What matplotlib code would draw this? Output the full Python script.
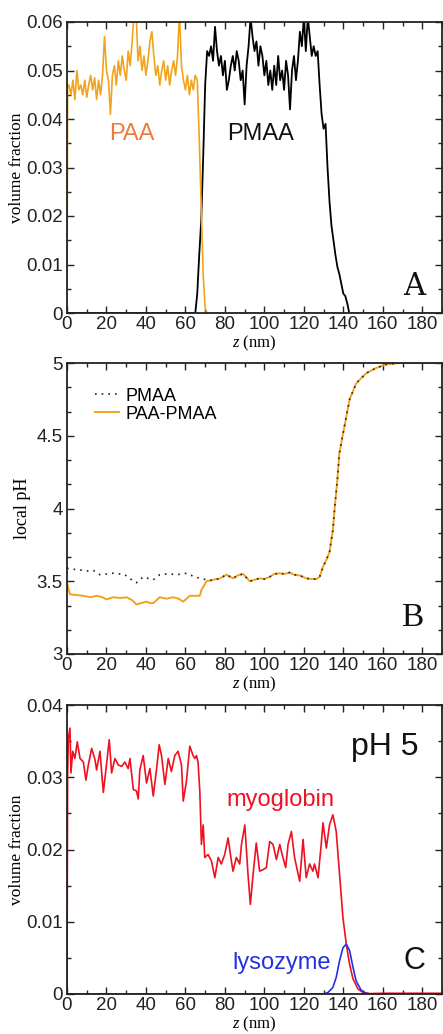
import numpy as np
import matplotlib
matplotlib.use('Agg')
import matplotlib.pyplot as plt
from matplotlib.ticker import MultipleLocator

plt.rcParams['font.family'] = 'Liberation Sans'
plt.rcParams['mathtext.fontset'] = 'custom'
plt.rcParams['mathtext.it'] = 'Liberation Serif:italic'
plt.rcParams['mathtext.rm'] = 'Liberation Serif'

# ---------------- Panel A: polymer volume fraction ----------------
z_paa = [0, 0.3] + list(range(1, 72)) + [190]
phi_paa = [0.0, 0.047,
           0.047, 0.045, 0.048, 0.044, 0.050, 0.046, 0.047, 0.045, 0.048, 0.0445,
           0.047, 0.049, 0.046, 0.0485, 0.044, 0.048, 0.045, 0.049, 0.057, 0.050,
           0.048, 0.041, 0.049, 0.051, 0.047, 0.052, 0.049, 0.053, 0.050, 0.048,
           0.054, 0.051, 0.056, 0.062, 0.062, 0.052, 0.055, 0.050, 0.053, 0.049,
           0.052, 0.056, 0.058, 0.053, 0.049, 0.051, 0.047, 0.050, 0.052, 0.048,
           0.051, 0.047, 0.050, 0.052, 0.049, 0.053, 0.062, 0.051, 0.048, 0.046,
           0.049, 0.045, 0.048, 0.046, 0.049, 0.048, 0.036, 0.022, 0.008, 0.001,
           0.000,
           0.0]

z_pmaa = [0, 65] + list(range(66, 144)) + [190]
phi_pmaa = [0.0, 0.0,
            0.004, 0.012, 0.019, 0.032, 0.047, 0.054, 0.053, 0.055, 0.052, 0.059,
            0.054, 0.051, 0.053, 0.049, 0.052, 0.046, 0.048, 0.051, 0.053, 0.050,
            0.054, 0.052, 0.048, 0.050, 0.043, 0.051, 0.055, 0.061, 0.057, 0.054,
            0.056, 0.051, 0.055, 0.053, 0.049, 0.052, 0.047, 0.050, 0.046, 0.051,
            0.047, 0.053, 0.048, 0.050, 0.046, 0.052, 0.049, 0.042, 0.050, 0.053,
            0.048, 0.052, 0.058, 0.055, 0.061, 0.054, 0.061, 0.057, 0.053, 0.055,
            0.053, 0.054, 0.047, 0.041, 0.038, 0.039, 0.030, 0.023, 0.018, 0.015,
            0.012, 0.0095, 0.008, 0.006, 0.004, 0.0035, 0.002, 0.000,
            0.0]

# ---------------- Panel B: local pH ----------------
z_ph_blend = [0, 1.5, 5, 8.3, 12, 15, 18, 20, 23.4, 27, 30.2, 33, 35.2, 37.5, 40.3,
              42, 43.7, 47, 50.4, 53.8, 56.5, 58.9, 62.2, 65, 67.3, 68.1, 70.7, 74,
              77.5, 80.8, 84.1, 86.5, 89.2, 92.6, 95, 97.6, 100, 102.7, 105, 107.8,
              110, 112.8, 115, 117.9, 121.2, 124, 126.3, 128, 129.7, 131.5, 133,
              134.7, 135.6, 137, 138, 139.8, 141.5, 143.2, 146.5, 151.6, 156.7,
              161.7, 168.5, 190]
ph_blend = [3.49, 3.41, 3.405, 3.40, 3.39, 3.40, 3.39, 3.375, 3.39, 3.385, 3.39, 3.37,
            3.34, 3.35, 3.36, 3.35, 3.35, 3.39, 3.38, 3.39, 3.38, 3.36, 3.40, 3.40,
            3.40, 3.44, 3.50, 3.51, 3.52, 3.545, 3.52, 3.54, 3.55, 3.50, 3.51, 3.52,
            3.515, 3.53, 3.55, 3.555, 3.55, 3.56, 3.545, 3.54, 3.52, 3.515, 3.515,
            3.53, 3.60, 3.65, 3.70, 3.85, 4.00, 4.20, 4.38, 4.51, 4.63, 4.75, 4.86,
            4.93, 4.966, 4.99, 5.0, 5.0]

z_ph_pmaa = [0, 1.5, 5, 8, 10, 13.3, 16.7, 20, 23.4, 26, 28.5, 31, 33.6, 35.2, 38.6,
             41, 43.7, 47, 50, 52.1, 55.5, 58, 60.5, 63.9, 67.3, 70.7, 74,
             77.5, 80.8, 84.1, 86.5, 89.2, 92.6, 95, 97.6, 100, 102.7, 105, 107.8,
             110, 112.8, 115, 117.9, 121.2, 124, 126.3, 128, 129.7, 131.5, 133,
             134.7, 135.6, 137, 138, 139.8, 141.5, 143.2, 146.5, 151.6, 156.7,
             161.7, 168.5, 190]
ph_pmaa = [3.59, 3.585, 3.58, 3.575, 3.57, 3.575, 3.545, 3.55, 3.555, 3.55, 3.55, 3.53,
           3.50, 3.49, 3.53, 3.52, 3.51, 3.545, 3.55, 3.55, 3.545, 3.55, 3.555, 3.535,
           3.52, 3.51, 3.505,
           3.52, 3.545, 3.52, 3.54, 3.55, 3.50, 3.51, 3.52,
           3.515, 3.53, 3.55, 3.555, 3.55, 3.56, 3.545, 3.54, 3.52, 3.515, 3.515,
           3.53, 3.60, 3.65, 3.70, 3.85, 4.00, 4.20, 4.38, 4.51, 4.63, 4.75, 4.86,
           4.93, 4.966, 4.99, 5.0, 5.0]

# ---------------- Panel C: protein volume fraction ----------------
z_myo = [0, 0.3, 0.7, 1.5, 2, 2.9, 4, 5.2, 6.6, 8.3, 9.6, 10.8, 12.5, 14.2, 15, 16.7,
         18.4, 20, 21.4, 22.6, 24.3, 26, 27.7, 29.3, 31, 31.9, 33.6, 35.2, 36.1, 36.9,
         38.6, 40.3, 42, 43.7, 45.4, 46.7, 47.9, 49.6, 51.3, 52.9, 54.6, 56.3, 58,
         58.9, 60.5, 62.2, 63.9, 64.8, 65.6, 66.4, 67.3, 68.1, 69, 69.8, 71.5, 73.2,
         74.9, 76.6, 78.2, 79.9, 81.6, 83.3, 84.1, 85.8, 87.5, 88.4, 90.1, 91.7, 92.9,
         94.3, 95.9, 97.6, 99.3, 101, 102.7, 104.4, 106.1, 107.8, 109.4, 110.8, 112,
         113.7, 115.3, 117.9, 119.6, 121.2, 122.9, 124.6, 125.4, 127.2, 128.8, 129.7,
         131.4, 133, 134.7, 136.4, 138.1, 139.8, 141.5, 143.2, 144.9, 147.4, 150,
         153.3, 160, 190]
phi_myo = [0.0, 0.030, 0.0354, 0.0368, 0.0306, 0.0336, 0.0326, 0.0349, 0.0326, 0.0321,
           0.0296, 0.0317, 0.0340, 0.0324, 0.0310, 0.0336, 0.0279, 0.0317, 0.0352,
           0.0306, 0.0326, 0.0317, 0.0315, 0.0321, 0.0312, 0.0326, 0.0283, 0.0281,
           0.0270, 0.0310, 0.0330, 0.0292, 0.0312, 0.0274, 0.0312, 0.0345, 0.0330,
           0.0290, 0.0326, 0.0308, 0.0330, 0.0336, 0.0317, 0.0267, 0.0294, 0.0343,
           0.0330, 0.0326, 0.0330, 0.0321, 0.0280, 0.0207, 0.0234, 0.0189, 0.0193,
           0.0184, 0.0161, 0.0189, 0.0180, 0.0193, 0.0216, 0.0184, 0.0170, 0.0189,
           0.0180, 0.0207, 0.0234, 0.0166, 0.0124, 0.0166, 0.0209, 0.0170, 0.0172,
           0.0175, 0.0211, 0.0207, 0.0186, 0.0207, 0.0189, 0.0175, 0.0207, 0.0225,
           0.0189, 0.0156, 0.0214, 0.0161, 0.0180, 0.0170, 0.0180, 0.0161, 0.0207,
           0.0237, 0.0202, 0.0234, 0.0248, 0.0225, 0.0166, 0.0106, 0.0069, 0.0041,
           0.0021, 0.0007, 0.0002, 0.00005, 0.0001, 0.0001]

z_lys = [0, 130, 132.2, 134.7, 136.4, 138.1, 139.8, 141.5, 143.2, 144.9, 146.5, 149.1,
         151.6, 154, 190]
phi_lys = [0.0, 0.0, 0.0002, 0.0009, 0.0023, 0.0046, 0.0064, 0.0069, 0.0060, 0.0037,
           0.0018, 0.0005, 0.0001, 0.0, 0.0]

orange = '#f2a31c'
W, H = 443, 1034
fig = plt.figure(figsize=(W / 100, H / 100), dpi=100)

def make_ax(top_px, bot_px):
    l, r = 67, 442
    return fig.add_axes([l / W, 1 - bot_px / H, (r - l) / W, (bot_px - top_px) / H])

axA = make_ax(22, 313)
axB = make_ax(363, 654)
axC = make_ax(705, 994)

for ax in (axA, axB, axC):
    ax.set_xlim(0, 190)
    ax.xaxis.set_major_locator(MultipleLocator(20))
    ax.xaxis.set_minor_locator(MultipleLocator(10))
    ax.tick_params(which='both', direction='in', top=True, right=True, width=1.0,
                   colors='#222222')
    ax.tick_params(which='major', length=5, labelsize=13.5)
    ax.tick_params(which='minor', length=3)
    ax.tick_params(axis='x', pad=2)
    ax.tick_params(axis='y', pad=3)
    for s in ax.spines.values():
        s.set_linewidth(1.3)
        s.set_color('#222222')
    ax.set_xlabel(r'$z$ (nm)', family='Liberation Serif', fontsize=12, labelpad=0.5)

# Panel A
axA.plot(z_pmaa, phi_pmaa, color='black', lw=1.3)
axA.plot(z_paa, phi_paa, color=orange, lw=1.2)
axA.set_ylim(0, 0.06)
axA.yaxis.set_major_locator(MultipleLocator(0.01))
axA.yaxis.set_minor_locator(MultipleLocator(0.005))
axA.yaxis.set_major_formatter(matplotlib.ticker.FuncFormatter(
    lambda v, p: '0' if abs(v) < 1e-12 else f'{v:.2f}'))
axA.set_ylabel('volume fraction', family='Liberation Serif', fontsize=12.5)
axA.yaxis.set_label_coords(-0.112, 0.5)
axA.text(33, 0.037, 'PAA', color='#f07a3c', fontsize=17, ha='center', va='center')
axA.text(98, 0.037, 'PMAA', color='#111111', fontsize=17, ha='center', va='center')
axA.text(176, 0.0055, 'A', family='DejaVu Serif', fontsize=22, ha='center',
         va='center', color='#111111')

# Panel B
axB.plot(z_ph_blend, ph_blend, color=orange, lw=1.4, label='PAA-PMAA')
axB.plot(z_ph_pmaa, ph_pmaa, color='#222222', lw=1.2, ls=(0, (1, 3)), label='PMAA')
axB.set_ylim(3, 5)
axB.yaxis.set_major_locator(MultipleLocator(0.5))
axB.yaxis.set_minor_locator(MultipleLocator(0.5 / 3))
axB.yaxis.set_major_formatter(matplotlib.ticker.FuncFormatter(
    lambda v, p: f'{v:g}'))
axB.set_ylabel('local pH', family='Liberation Serif', fontsize=13)
axB.yaxis.set_label_coords(-0.095, 0.5)
h, lab = axB.get_legend_handles_labels()
axB.legend(h[::-1], lab[::-1], loc='upper left', bbox_to_anchor=(0.075, 0.915),
           frameon=False, fontsize=13, handlelength=1.3, handletextpad=0.4,
           labelspacing=0.05, borderpad=0, borderaxespad=0)
axB.text(175, 3.25, 'B', family='Liberation Serif', fontsize=24, ha='center',
         va='center', color='#111111')

# Panel C
axC.plot(z_myo, phi_myo, color='#ee1122', lw=1.2)
axC.plot(z_lys, phi_lys, color='#2233dd', lw=1.2)
axC.set_ylim(0, 0.04)
axC.yaxis.set_major_locator(MultipleLocator(0.01))
axC.yaxis.set_minor_locator(MultipleLocator(0.005))
axC.yaxis.set_major_formatter(matplotlib.ticker.FuncFormatter(
    lambda v, p: '0' if abs(v) < 1e-12 else f'{v:.2f}'))
axC.set_ylabel('volume fraction', family='Liberation Serif', fontsize=12.5)
axC.yaxis.set_label_coords(-0.112, 0.5)
axC.text(108, 0.0268, 'myoglobin', color='#ee1122', fontsize=17, ha='center',
         va='center')
axC.text(108.5, 0.0043, 'lysozyme', color='#2233dd', fontsize=17, ha='center',
         va='center')
axC.text(161, 0.0342, 'pH 5', color='#111111', fontsize=23, ha='center', va='center')
axC.text(176, 0.0045, 'C', color='#111111', fontsize=22, ha='center', va='center')

fig.savefig('out.png', dpi=100)
